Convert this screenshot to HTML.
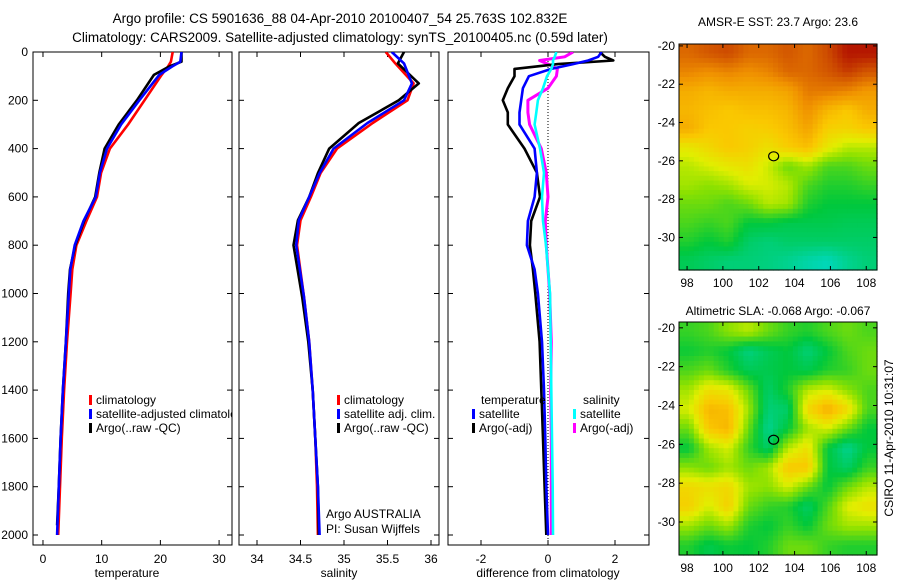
<!DOCTYPE html>
<html><head><meta charset="utf-8"><style>
body{margin:0;background:#fff;}
svg{display:block;font-family:"Liberation Sans",sans-serif;}
</style></head><body>
<svg id="fig" width="900" height="580" viewBox="0 0 900 580" xmlns="http://www.w3.org/2000/svg">
<rect width="900" height="580" fill="#fff"/>
<text x="340" y="23" font-size="13.5" text-anchor="middle">Argo profile: CS 5901636_88 04-Apr-2010 20100407_54 25.763S 102.832E</text>
<text x="340" y="42" font-size="13.5" text-anchor="middle">Climatology: CARS2009. Satellite-adjusted climatology: synTS_20100405.nc (0.59d later)</text>
<g id="g"></g>
</svg>
<script>
// ---- data ----
const depthsT = [0,40,60,95,200,300,400,500,600,700,800,900,1000,1200,1400,1600,1800,2000];
const tempClim = [22.1,21.8,21.3,20.2,17.3,14.5,11.4,9.9,9.2,7.4,5.7,5.0,4.7,4.1,3.6,3.2,2.9,2.6];
const tempSat  = [23.6,23.4,22.0,19.8,16.4,13.3,10.9,9.7,9.0,6.9,5.4,4.65,4.4,3.9,3.4,3.0,2.7,2.4];
const tempArgo = [23.6,23.6,21.5,18.9,16.0,12.9,10.5,9.6,8.9,7.0,5.5,4.6,4.3,3.9,3.4,3.0,2.7,2.4];
const depthsS = [0,47,130,200,294,400,502,600,697,800,1015,1200,1400,1600,1800,2000];
const salClim = [35.48,35.59,35.80,35.73,35.33,34.92,34.73,34.62,34.50,34.46,34.54,34.60,34.64,34.67,34.69,34.70];
const salSat  = [35.55,35.69,35.78,35.69,35.27,34.88,34.72,34.60,34.48,34.45,34.54,34.60,34.64,34.67,34.70,34.72];
const salArgo = [35.69,35.62,35.86,35.63,35.17,34.83,34.70,34.60,34.47,34.42,34.52,34.59,34.64,34.67,34.70,34.71];
const depthsD = [0,20,35,50,70,100,150,200,250,300,400,500,600,700,800,900,1000,1200,1400,1600,1800,2000];
const diffTArgo = [1.55,1.7,1.95,0.3,-1.0,-1.0,-1.2,-1.35,-1.2,-1.2,-0.7,-0.33,-0.24,-0.5,-0.54,-0.45,-0.38,-0.25,-0.2,-0.15,-0.1,-0.05];
const diffTSat  = [1.6,1.5,1.2,0.75,0.1,-0.57,-0.75,-0.8,-0.85,-0.85,-0.4,-0.33,-0.4,-0.6,-0.63,-0.4,-0.3,-0.18,-0.12,-0.08,-0.05,0];
const diffSSat  = [0.25,0.2,0.15,0.15,0.1,-0.03,-0.15,-0.3,-0.35,-0.4,-0.24,-0.12,-0.18,-0.15,-0.06,0,0.06,0.08,0.1,0.12,0.14,0.15];
const diffSArgo = [0.75,0.5,-0.25,0.0,0.28,0.25,0.0,-0.6,-0.6,-0.55,-0.2,-0.05,0,-0.08,-0.05,0,0.05,0.1,0.08,0.1,0.1,0.1];
const depthTicks = [0,200,400,600,800,1000,1200,1400,1600,1800,2000];
const tempTicks = [0,10,20,30];
const salTicks = [34,34.5,35,35.5,36];
const diffTicks = [-2,0,2];
const latTicks = [-20,-22,-24,-26,-28,-30];
const lonTicks = [98,100,102,104,106,108];
const sstGrid = [
[0.85,0.88,0.9,0.85,0.85,0.88,0.85,0.9,0.97,0.97],
[0.8,0.78,0.8,0.78,0.8,0.85,0.85,0.88,0.92,0.88],
[0.72,0.7,0.72,0.72,0.72,0.74,0.82,0.82,0.8,0.76],
[0.7,0.68,0.66,0.68,0.68,0.7,0.78,0.7,0.66,0.72],
[0.72,0.66,0.66,0.64,0.65,0.68,0.74,0.64,0.63,0.66],
[0.58,0.62,0.66,0.64,0.6,0.65,0.68,0.58,0.52,0.52],
[0.52,0.55,0.58,0.6,0.54,0.45,0.5,0.42,0.42,0.45],
[0.5,0.48,0.5,0.55,0.55,0.52,0.42,0.38,0.38,0.4],
[0.45,0.45,0.42,0.45,0.52,0.5,0.38,0.35,0.35,0.35],
[0.42,0.4,0.42,0.35,0.35,0.33,0.33,0.33,0.32,0.32],
[0.38,0.35,0.38,0.3,0.28,0.3,0.3,0.3,0.3,0.3],
[0.32,0.3,0.28,0.28,0.27,0.25,0.22,0.2,0.25,0.28]];
const slaGrid = [
[0.4,0.42,0.48,0.52,0.45,0.4,0.38,0.42,0.45,0.42],
[0.36,0.38,0.35,0.27,0.32,0.35,0.28,0.35,0.42,0.45],
[0.42,0.45,0.38,0.32,0.33,0.35,0.33,0.38,0.4,0.45],
[0.5,0.6,0.58,0.45,0.3,0.38,0.52,0.55,0.48,0.42],
[0.55,0.7,0.68,0.5,0.28,0.3,0.62,0.72,0.62,0.42],
[0.45,0.66,0.7,0.45,0.25,0.35,0.5,0.55,0.45,0.35],
[0.35,0.5,0.55,0.4,0.3,0.52,0.6,0.35,0.25,0.35],
[0.48,0.45,0.5,0.45,0.5,0.66,0.66,0.35,0.3,0.4],
[0.62,0.6,0.62,0.5,0.48,0.55,0.45,0.35,0.45,0.52],
[0.64,0.55,0.64,0.45,0.4,0.38,0.3,0.42,0.56,0.6],
[0.5,0.45,0.5,0.38,0.35,0.4,0.35,0.45,0.5,0.5],
[0.38,0.33,0.36,0.35,0.38,0.45,0.45,0.4,0.38,0.38]];
const argoLon = 102.832, argoLat = -25.763;

const NS="http://www.w3.org/2000/svg";
const G=document.getElementById('g');
function mk(tag,attrs,parent){const e=document.createElementNS(NS,tag);for(const k in attrs)e.setAttribute(k,attrs[k]);(parent||G).appendChild(e);return e;}
function txt(x,y,s,size,anchor,parent){const t=mk('text',{x:x,y:y,'font-size':size||12,'text-anchor':anchor||'middle'},parent);t.textContent=s;return t;}

const yTop=52, yBot=545, mPerPx=0.2415;
const yD = d => yTop + d*mPerPx;

function panel(name,x0,x1,vmin,vmax,xticks,fmt,ylabels){
  const sx = v => x0 + (v-vmin)/(vmax-vmin)*(x1-x0);
  const grp=mk('g',{});
  
  
  const box=mk('rect',{x:x0,y:yTop,width:x1-x0,height:yBot-yTop,fill:'none',stroke:'#000','stroke-width':1},grp);
  
  
  depthTicks.forEach(d=>{
    const y=yD(d);
    mk('line',{x1:x0,x2:x0+5,y1:y,y2:y,stroke:'#000'},grp);
    mk('line',{x1:x1-5,x2:x1,y1:y,y2:y,stroke:'#000'},grp);
    if(ylabels){const t=txt(x0-5,y+4,String(d),12,'end',grp);
      
      }
  });
  xticks.forEach(v=>{
    const x=sx(v);
    mk('line',{x1:x,x2:x,y1:yBot,y2:yBot-5,stroke:'#000'},grp);
    mk('line',{x1:x,x2:x,y1:yTop,y2:yTop+5,stroke:'#000'},grp);
    const t=txt(x,yBot+18,fmt(v),12,'middle',grp);
    
    
  });
  const cp=mk('clipPath',{id:'cp-'+name},grp);
  mk('rect',{x:x0,y:yTop,width:x1-x0,height:yBot-yTop},cp);
  return {sx,grp,clip:'url(#cp-'+name+')'};
}
function line(p,depths,vals,color,nm,w,dash){
  const pts=depths.map((d,i)=>p.sx(vals[i]).toFixed(1)+','+yD(d).toFixed(1)).join(' ');
  const pl=mk('polyline',{points:pts,fill:'none',stroke:color,'stroke-width':w||2.6,'stroke-linejoin':'round','clip-path':p.clip},p.grp);
  if(dash)pl.setAttribute('stroke-dasharray',dash);
  
  
}
function legend(p,x,y,color,label){
  mk('rect',{x:x,y:y-9,width:3,height:10,fill:color},p.grp);
  const t=txt(x+7,y,label,12,'start',p.grp);
  
  
  return t;
}

// Panel 1 temperature
const p1=panel('temperature-panel',33,232,-1.7,32.2,tempTicks,v=>String(v),true);
line(p1,depthsT,tempClim,'#f00','temp-climatology-line');
line(p1,depthsT.slice(0,-1).concat([1960]),tempArgo,'#000','temp-argo-line');
line(p1,depthsT,tempSat,'#00f','temp-satellite-line');
const cl1=mk('clipPath',{id:'cpleg1'},p1.grp);mk('rect',{x:33,y:380,width:199,height:60},cl1);
legend(p1,89,404,'#f00','climatology');
legend(p1,89,418,'#00f','satellite-adjusted climatology').setAttribute('clip-path','url(#cpleg1)');
legend(p1,89,432,'#000','Argo(..raw -QC)');
txt(127,577,'temperature',12);

// Panel 2 salinity
const p2=panel('salinity-panel',239,439,33.793,36.092,salTicks,v=>String(v),false);
line(p2,depthsS,salClim,'#f00','sal-climatology-line');
line(p2,depthsS,salArgo,'#000','sal-argo-line');
line(p2,depthsS,salSat,'#00f','sal-satellite-line');
legend(p2,337,404,'#f00','climatology');
legend(p2,337,418,'#00f','satellite adj. clim.');
legend(p2,337,432,'#000','Argo(..raw -QC)');
txt(326,518,'Argo AUSTRALIA',12,'start',p2.grp);
txt(326,533,'PI: Susan Wijffels',12,'start',p2.grp);
txt(339,577,'salinity',12);

// Panel 3 differences
const p3=panel('difference-panel',448,649,-2.985,3.015,diffTicks,v=>String(v),false);
mk('line',{x1:p3.sx(0),x2:p3.sx(0),y1:yTop,y2:yBot,stroke:'#000','stroke-dasharray':'1,2'},p3.grp);
line(p3,depthsD,diffSArgo,'#f0f','diff-sal-argo-line',3);
line(p3,depthsD,diffTArgo,'#000','diff-temp-argo-line');
line(p3,depthsD,diffTSat,'#00f','diff-temp-satellite-line');
line(p3,depthsD,diffSSat,'#0ff','diff-sal-satellite-line');
txt(481,404,'temperature',12,'start',p3.grp);
txt(583,404,'salinity',12,'start',p3.grp);
legend(p3,472,418,'#00f','satellite');
legend(p3,472,432,'#000','Argo(-adj)');
legend(p3,573,418,'#0ff','satellite');
legend(p3,573,432,'#f0f','Argo(-adj)');
txt(548,577,'difference from climatology',12);

// maps
function cmap(v){
  const stops=[[0.2,[0,215,185]],[0.35,[0,200,60]],[0.48,[140,225,0]],[0.56,[225,238,0]],[0.66,[250,200,0]],[0.78,[240,145,0]],[0.9,[205,75,0]],[1.0,[170,0,0]]];
  if(v<=stops[0][0])return 'rgb('+stops[0][1]+')';
  for(let i=1;i<stops.length;i++){if(v<=stops[i][0]){const a=stops[i-1],b=stops[i],t=(v-a[0])/(b[0]-a[0]);
    return 'rgb('+a[1].map((c,k)=>Math.round(c+(b[1][k]-c)*t)).join(',')+')';}}
  return 'rgb(170,0,0)';
}
function sample(grid,fr,fc){ // bilinear lookup between cell centres
  const rows=grid.length, cols=grid[0].length;
  const r=Math.min(Math.max(fr-0.5,0),rows-1), c=Math.min(Math.max(fc-0.5,0),cols-1);
  const r0=Math.floor(r), c0=Math.floor(c), r1=Math.min(r0+1,rows-1), c1=Math.min(c0+1,cols-1);
  const tr=r-r0, tc=c-c0;
  return grid[r0][c0]*(1-tr)*(1-tc)+grid[r0][c1]*(1-tr)*tc+grid[r1][c0]*tr*(1-tc)+grid[r1][c1]*tr*tc;
}
function map(name,grid,x0,x1,y0,y1,latTop,latBot,title,titleY){
  const lon0=97.55,lon1=108.6;
  const sx=v=>x0+(v-lon0)/(lon1-lon0)*(x1-x0);
  const sy=v=>y0+(latTop-v)/(latTop-latBot)*(y1-y0);
  const grp=mk('g',{});
  
  
  const rows=grid.length, cols=grid[0].length, sub=4;
  const cw=(x1-x0)/(cols*sub), ch=(y1-y0)/(rows*sub);
  for(let r=0;r<rows*sub;r++)for(let c=0;c<cols*sub;c++){
    const v=sample(grid,(r+0.5)/sub,(c+0.5)/sub);
    const cell=mk('rect',{x:x0+c*cw,y:y0+r*ch,width:cw+0.6,height:ch+0.6,fill:cmap(v)},grp);
    
    
  }
  mk('rect',{x:x0,y:y0,width:x1-x0,height:y1-y0,fill:'none',stroke:'#000'},grp);
  latTicks.forEach(v=>{const y=sy(v);mk('line',{x1:x0,x2:x0+4,y1:y,y2:y,stroke:'#000'},grp);mk('line',{x1:x1-4,x2:x1,y1:y,y2:y,stroke:'#000'},grp);
    const t=txt(x0-4,y+4,String(v),12,'end',grp);});
  lonTicks.forEach(v=>{const x=sx(v);mk('line',{x1:x,x2:x,y1:y1,y2:y1-4,stroke:'#000'},grp);mk('line',{x1:x,x2:x,y1:y0,y2:y0+4,stroke:'#000'},grp);
    const t=txt(x,y1+17,String(v),12,'middle',grp);});
  const c=mk('ellipse',{cx:sx(argoLon),cy:sy(argoLat),rx:5,ry:4.5,fill:'none',stroke:'#000','stroke-width':1.2},grp);
  
  
  const t=txt((x0+x1)/2,titleY,title,12,'middle',grp);
  
  
}
map('sst-map',sstGrid,679,877,44,270,-19.9,-31.7,'AMSR-E SST: 23.7 Argo: 23.6',26);
map('sla-map',slaGrid,679,877,322,555,-19.7,-31.7,'Altimetric SLA: -0.068 Argo: -0.067',315);
const r=txt(0,0,'CSIRO 11-Apr-2010 10:31:07',12,'middle');
r.setAttribute('transform','translate(893,438) rotate(-90)');


</script>
</body></html>
